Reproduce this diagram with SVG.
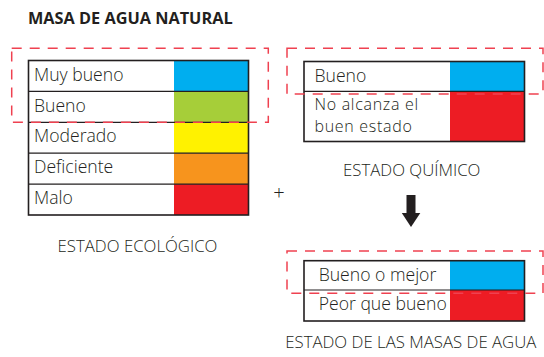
<svg xmlns="http://www.w3.org/2000/svg" width="544" height="357" viewBox="0 0 544 357">
<style>
  .t { font-family: "Open Sans", "Noto Sans", "Liberation Sans", sans-serif; font-size: 17.6px; font-weight: 300; fill: #231F20; }
  .t2 { font-family: "Open Sans", "Noto Sans", "Liberation Sans", sans-serif; font-size: 16px; font-weight: 300; letter-spacing: 0.7px; fill: #231F20; }
  .title { font-family: "Open Sans", "Noto Sans", "Liberation Sans", sans-serif; font-size: 16.3px; font-weight: bold; fill: #231F20; }
  .cap { font-family: "Open Sans", "Noto Sans", "Liberation Sans", sans-serif; font-size: 16.8px; font-weight: 300; fill: #231F20; text-anchor: middle; }
  .frame { fill: none; stroke: #231F20; stroke-width: 1.6; }
  .sep { stroke: #231F20; stroke-width: 1.2; }
  .dash { fill: none; stroke: #EF4150; stroke-width: 1.5; stroke-dasharray: 10 8; }
</style>
<rect width="544" height="357" fill="#FFFFFF"/>
<text class="title" x="28" y="24">MASA DE AGUA NATURAL</text>

<g id="estado-ecologico">
  <rect x="174" y="60.5" width="74.5" height="30.9" fill="#00AEEF"/>
  <rect x="174" y="91.4" width="74.5" height="30.9" fill="#A6CE39"/>
  <rect x="174" y="122.3" width="74.5" height="30.9" fill="#FFF200"/>
  <rect x="174" y="153.2" width="74.5" height="30.9" fill="#F7941D"/>
  <rect x="174" y="184.1" width="74.5" height="30.9" fill="#ED1C24"/>
  <line class="sep" x1="28.5" y1="91.4" x2="248.5" y2="91.4"/>
  <line class="sep" x1="28.5" y1="122.3" x2="248.5" y2="122.3"/>
  <line class="sep" x1="28.5" y1="153.2" x2="248.5" y2="153.2"/>
  <line class="sep" x1="28.5" y1="184.1" x2="248.5" y2="184.1"/>
  <rect class="frame" x="28.5" y="60.5" width="220" height="154.5"/>
  <text class="t" x="34" y="81">Muy bueno</text>
  <text class="t" x="34" y="111.8">Bueno</text>
  <text class="t" x="34" y="142.4">Moderado</text>
  <text class="t" x="34" y="172.8">Deficiente</text>
  <text class="t" x="34" y="203.5">Malo</text>
  <rect class="dash" x="11.7" y="48.3" width="256.6" height="74"/>
  <text class="cap" x="137.5" y="251.7">ESTADO ECOLÓGICO</text>
</g>

<g id="estado-quimico">
  <rect x="450" y="61.5" width="74.5" height="29.8" fill="#00AEEF"/>
  <rect x="450" y="91.3" width="74.5" height="50.2" fill="#ED1C24"/>
  <line class="sep" x1="304" y1="91.3" x2="524.5" y2="91.3"/>
  <rect class="frame" x="304" y="61.5" width="220.5" height="80"/>
  <text class="t" x="314.5" y="81.7">Bueno</text>
  <text class="t2" x="314.5" y="110.1">No alcanza el</text>
  <text class="t2" x="314.5" y="132.2">buen estado</text>
  <rect class="dash" x="287" y="48.3" width="256" height="45.7"/>
  <text class="cap" x="411.7" y="175.7">ESTADO QUÍMICO</text>
</g>

<g id="mas">
  <text x="279" y="199.5" text-anchor="middle" style="font-family: 'Open Sans', 'Liberation Sans', sans-serif; font-size: 20px; font-weight: 300; fill: #231F20;">+</text>
</g>

<g id="connectors">
  <rect x="406.5" y="195" width="9" height="19" fill="#231F20"/>
  <polygon points="401.8,213 420.3,213 411,227" fill="#231F20"/>
</g>

<g id="estado-masas">
  <rect x="450" y="260.7" width="74.5" height="29.3" fill="#00AEEF"/>
  <rect x="450" y="290" width="74.5" height="31" fill="#ED1C24"/>
  <line class="sep" x1="304" y1="290" x2="524.5" y2="290"/>
  <rect class="frame" x="304" y="260.7" width="220.5" height="60.3"/>
  <text class="t" x="318.7" y="280.7">Bueno o mejor</text>
  <text class="t" x="318.7" y="310">Peor que bueno</text>
  <rect class="dash" x="287" y="251" width="256" height="42.3"/>
  <text class="cap" x="410.8" y="348.3">ESTADO DE LAS MASAS DE AGUA</text>
</g>
</svg>
